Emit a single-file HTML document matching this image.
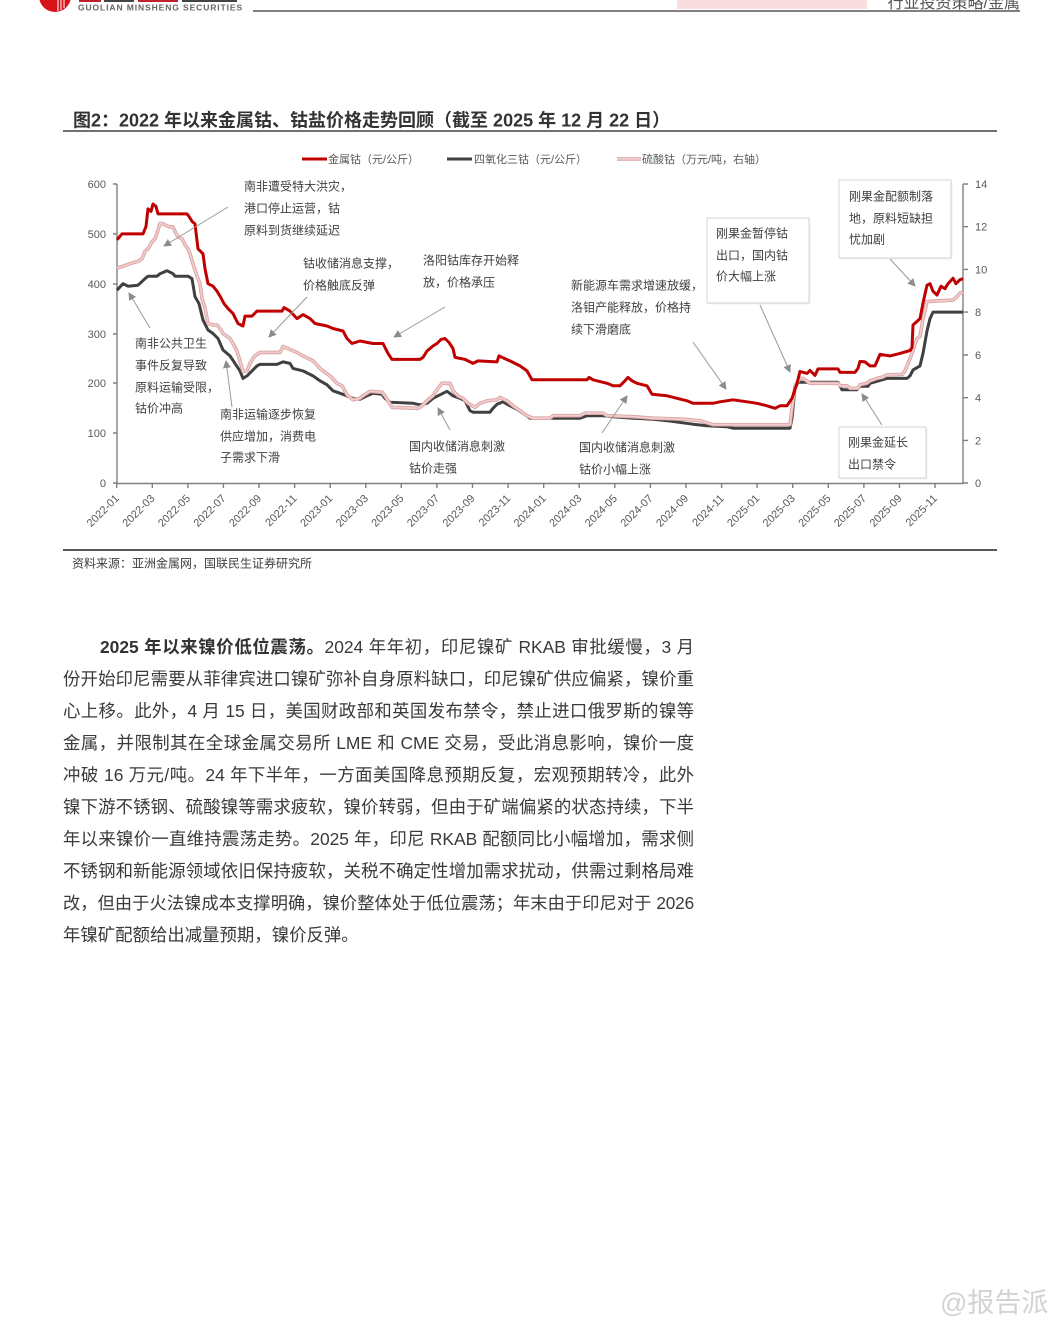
<!DOCTYPE html>
<html>
<head>
<meta charset="utf-8">
<style>
  html,body{margin:0;padding:0;background:#fff;}
  body{width:1061px;height:1320px;position:relative;overflow:hidden;font-family:"Liberation Sans","Noto Sans CJK SC",sans-serif;}
  .ln{position:absolute;left:63px;width:631px;height:32px;line-height:32px;font-size:17.4px;color:#3a3a3a;white-space:nowrap;text-align:justify;text-align-last:justify;}
  .ln.last{text-align:left;text-align-last:left;}
  .ln b{color:#333;font-weight:bold;}
</style>
</head>
<body>

<!-- header -->
<svg style="position:absolute;left:0;top:0" width="1061" height="20">
  <circle cx="55" cy="-4" r="16" fill="#d7141a"/>
  <line x1="58" y1="0" x2="58" y2="11" stroke="#fff" stroke-width="1"/>
  <line x1="61" y1="0" x2="61" y2="10" stroke="#fff" stroke-width="1"/>
  <line x1="64" y1="0" x2="64" y2="8" stroke="#fff" stroke-width="1"/>
  <rect x="79" y="0" width="22" height="2" fill="#c0202a"/>
  <rect x="104" y="0" width="30" height="2" fill="#444"/>
  <rect x="138" y="0" width="40" height="2" fill="#c0202a"/>
  <rect x="182" y="0" width="55" height="2" fill="#444"/>
  <text x="78" y="10.5" font-family="Liberation Sans, sans-serif" font-size="8.5" font-weight="bold" fill="#666" letter-spacing="0.9">GUOLIAN MINSHENG SECURITIES</text>
  <rect x="677" y="0" width="190" height="9" fill="#f8dede"/>
  <text x="1020" y="8" text-anchor="end" font-size="16" fill="#555" font-family="Liberation Sans, Noto Sans CJK SC, sans-serif">行业投资策略/金属</text>
  <line x1="253" y1="11" x2="1020" y2="11" stroke="#808080" stroke-width="2"/>
</svg>

<!-- chart -->
<svg style="position:absolute;left:0;top:0" width="1061" height="600" font-family="Liberation Sans, Noto Sans CJK SC, sans-serif">
  <defs>
    <marker id="ah" markerWidth="8" markerHeight="8" refX="7" refY="4" orient="auto" markerUnits="userSpaceOnUse">
      <path d="M0,0 L8,4 L0,8 Z" fill="#8c8c8c"/>
    </marker>
  </defs>

  <!-- title -->
  <text x="73" y="126.5" font-size="18" font-weight="bold" fill="#333">图2：2022 年以来金属钴、钴盐价格走势回顾（截至 2025 年 12 月 22 日）</text>
  <line x1="63" y1="131" x2="997" y2="131" stroke="#404040" stroke-width="1.6"/>

  <!-- legend -->
  <g font-size="11" fill="#595959">
    <line x1="302" y1="159" x2="327" y2="159" stroke="#c00000" stroke-width="3"/>
    <text x="328" y="163">金属钴（元/公斤）</text>
    <line x1="447" y1="159" x2="472" y2="159" stroke="#404040" stroke-width="3"/>
    <text x="474" y="163">四氧化三钴（元/公斤）</text>
    <line x1="617" y1="159" x2="641" y2="159" stroke="#d9a3a3" stroke-width="3.5"/>
    <line x1="617" y1="159" x2="641" y2="159" stroke="#f2cccc" stroke-width="1.8"/>
    <text x="642" y="163">硫酸钴（万元/吨，右轴）</text>
  </g>

  <!-- axes -->
  <g stroke="#808080" stroke-width="1.4" fill="none">
    <line x1="117" y1="184" x2="117" y2="484"/>
    <line x1="963" y1="184" x2="963" y2="484"/>
    <line x1="117" y1="483.5" x2="963" y2="483.5"/>
    <path d="M113,184H117M113,234H117M113,284H117M113,334H117M113,383H117M113,433H117M113,483H117"/>
    <path d="M963,184H968M963,226.7H968M963,269.4H968M963,312.1H968M963,355H968M963,397.7H968M963,440.4H968M963,483H968"/>
    <path d="M116.7,483V488M152.3,483V488M187.9,483V488M223.4,483V488M259,483V488M294.6,483V488M330.2,483V488M365.8,483V488M401.3,483V488M436.9,483V488M472.5,483V488M508.1,483V488M543.7,483V488M579.2,483V488M614.8,483V488M650.4,483V488M686,483V488M721.6,483V488M757.1,483V488M792.7,483V488M828.3,483V488M863.9,483V488M899.5,483V488M935,483V488"/>
  </g>
  <g font-size="11" fill="#595959" text-anchor="end">
    <text x="106" y="188">600</text>
    <text x="106" y="238">500</text>
    <text x="106" y="288">400</text>
    <text x="106" y="338">300</text>
    <text x="106" y="387">200</text>
    <text x="106" y="437">100</text>
    <text x="106" y="487">0</text>
  </g>
  <g font-size="11" fill="#595959">
    <text x="975" y="188">14</text>
    <text x="975" y="230.7">12</text>
    <text x="975" y="273.4">10</text>
    <text x="975" y="316.1">8</text>
    <text x="975" y="359">6</text>
    <text x="975" y="401.7">4</text>
    <text x="975" y="444.4">2</text>
    <text x="975" y="487">0</text>
  </g>
  <g font-size="11" fill="#595959" text-anchor="end">
    <text transform="translate(119.7,499) rotate(-45)">2022-01</text>
    <text transform="translate(155.3,499) rotate(-45)">2022-03</text>
    <text transform="translate(190.9,499) rotate(-45)">2022-05</text>
    <text transform="translate(226.4,499) rotate(-45)">2022-07</text>
    <text transform="translate(262,499) rotate(-45)">2022-09</text>
    <text transform="translate(297.6,499) rotate(-45)">2022-11</text>
    <text transform="translate(333.2,499) rotate(-45)">2023-01</text>
    <text transform="translate(368.8,499) rotate(-45)">2023-03</text>
    <text transform="translate(404.3,499) rotate(-45)">2023-05</text>
    <text transform="translate(439.9,499) rotate(-45)">2023-07</text>
    <text transform="translate(475.5,499) rotate(-45)">2023-09</text>
    <text transform="translate(511.1,499) rotate(-45)">2023-11</text>
    <text transform="translate(546.7,499) rotate(-45)">2024-01</text>
    <text transform="translate(582.2,499) rotate(-45)">2024-03</text>
    <text transform="translate(617.8,499) rotate(-45)">2024-05</text>
    <text transform="translate(653.4,499) rotate(-45)">2024-07</text>
    <text transform="translate(689,499) rotate(-45)">2024-09</text>
    <text transform="translate(724.6,499) rotate(-45)">2024-11</text>
    <text transform="translate(760.1,499) rotate(-45)">2025-01</text>
    <text transform="translate(795.7,499) rotate(-45)">2025-03</text>
    <text transform="translate(831.3,499) rotate(-45)">2025-05</text>
    <text transform="translate(866.9,499) rotate(-45)">2025-07</text>
    <text transform="translate(902.5,499) rotate(-45)">2025-09</text>
    <text transform="translate(938,499) rotate(-45)">2025-11</text>
  </g>

  <!-- series: black -->
  <polyline fill="none" stroke="#404040" stroke-width="3" stroke-linejoin="round" points="117,290.2 123,283.7 128,286.2 138,285.2 145,278.7 148,276.2 157,276.2 160,273.7 167,270.7 173,273.7 175,276.2 188,276.2 192,278.7 195,296.6 199,303.6 203,320.1 208,330 213,333.5 218,338.5 223,350 230,355.9 235,363.4 240,370.9 243,378.4 247,375.9 252,370.9 257,365.9 260,364.4 277,364.4 283,361.9 290,363.4 293,368.4 303,370.9 313,375.9 320,380.8 327,384.8 333,390.8 343,394.3 353,398.3 360,399.3 367,395.8 373,393.3 382,394.3 385,398.3 390,402.3 413,403.3 420,404.8 427,403.3 430,400.8 433,398.3 440,394.8 447,391.3 453,395.8 460,398.3 465,400.8 470,410.7 473,412.2 490,412.2 493,408.3 497,404.3 503,401.8 510,405.8 517,409.3 523,413.2 530,418.2 580,418.2 587,415.7 603,415.7 613,416.7 633,418.2 653,419.2 667,420.7 693,424.2 707,425.7 727,426.7 733,428.2 790,428.2 792,418.2 795,388.3 798,382.3 838,382.3 842,389.8 857,389.8 860,386.3 868,386.3 870,383.3 880,380.4 887,378.4 907,378.4 910,375.9 913,369.9 920,365.9 923,353.4 927,331 930,318.6 933,312.1 963,312.1"/>

  <!-- series: pink -->
  <g fill="none" stroke-linejoin="round">
  <polyline stroke="#d9a3a3" stroke-width="3.6" points="117,268.2 123,266.2 130,263.7 138,261.3 142,258.8 145,251.3 148,248.8 152,241.8 155,238.8 157,233.4 160,223.4 163,223.9 168,226.4 173,226.9 175,231.4 178,236.8 182,238.8 185,244.8 188,248.8 190,253.8 193,263.7 197,276.2 200,283.7 202,298.6 205,308.1 207,318.6 208,323.5 213,325 217,325 220,328.5 223,333.5 230,338.5 233,343.5 237,351 240,361.4 243,371.4 247,370.9 250,363.4 253,358.4 255,355.9 260,352.4 280,352.4 283,346.5 290,349.5 297,352.4 303,355.9 313,360.9 320,368.4 323,370.9 330,375.9 337,383.3 342,385.8 347,394.8 350,397.3 353,399.8 360,398.3 363,395.8 370,391.3 382,392.3 385,395.8 388,400.8 392,407.3 418,408.3 422,405.8 427,400.8 433,395.8 438,388.3 442,383.3 450,383.3 453,390.8 458,395.8 463,398.3 468,403.3 475,407.3 480,403.3 487,400.8 497,399.8 500,397.3 507,400.8 513,405.8 520,410.7 527,415.7 533,418.2 550,418.2 553,415.7 580,415.7 585,413.2 603,413.2 607,415.7 633,416.7 653,418.2 683,419.2 700,420.7 713,424.7 790,424.7 792,408.3 795,385.8 800,378.4 803,378.4 810,383.3 838,383.3 840,385.8 847,385.8 850,388.3 858,388.3 860,384.8 867,383.3 870,380.8 877,378.4 882,377.4 887,374.9 902,374.4 905,370.9 908,363.4 912,353.4 917,338.5 920,336.5 923,318.6 927,301.6 953,300.1 956,297.6 960,293.1 963,292.2"/>
  <polyline stroke="#f2cccc" stroke-width="1.8" points="117,268.2 123,266.2 130,263.7 138,261.3 142,258.8 145,251.3 148,248.8 152,241.8 155,238.8 157,233.4 160,223.4 163,223.9 168,226.4 173,226.9 175,231.4 178,236.8 182,238.8 185,244.8 188,248.8 190,253.8 193,263.7 197,276.2 200,283.7 202,298.6 205,308.1 207,318.6 208,323.5 213,325 217,325 220,328.5 223,333.5 230,338.5 233,343.5 237,351 240,361.4 243,371.4 247,370.9 250,363.4 253,358.4 255,355.9 260,352.4 280,352.4 283,346.5 290,349.5 297,352.4 303,355.9 313,360.9 320,368.4 323,370.9 330,375.9 337,383.3 342,385.8 347,394.8 350,397.3 353,399.8 360,398.3 363,395.8 370,391.3 382,392.3 385,395.8 388,400.8 392,407.3 418,408.3 422,405.8 427,400.8 433,395.8 438,388.3 442,383.3 450,383.3 453,390.8 458,395.8 463,398.3 468,403.3 475,407.3 480,403.3 487,400.8 497,399.8 500,397.3 507,400.8 513,405.8 520,410.7 527,415.7 533,418.2 550,418.2 553,415.7 580,415.7 585,413.2 603,413.2 607,415.7 633,416.7 653,418.2 683,419.2 700,420.7 713,424.7 790,424.7 792,408.3 795,385.8 800,378.4 803,378.4 810,383.3 838,383.3 840,385.8 847,385.8 850,388.3 858,388.3 860,384.8 867,383.3 870,380.8 877,378.4 882,377.4 887,374.9 902,374.4 905,370.9 908,363.4 912,353.4 917,338.5 920,336.5 923,318.6 927,301.6 953,300.1 956,297.6 960,293.1 963,292.2"/>
  </g>

  <!-- series: red -->
  <polyline fill="none" stroke="#c00000" stroke-width="3" stroke-linejoin="round" points="117,239.8 122,233.9 143,233.9 146,226.4 148,208.9 151,211.4 153,204 156,206.4 158,213.9 187,213.9 189,216.4 192,221.4 195,223.9 198,248.8 203,253.8 205,268.7 208,283.7 213,286.2 217,291.2 220,296.1 224,303.6 228,308.6 233,313.6 238,323.5 243,326 245,316.1 252,316.1 257,311.1 282,311.1 284,307.6 290,311.1 297,318.6 303,314.6 310,318.6 315,323.5 327,326 333,328.5 343,331 347,338.5 352,343.5 360,341 373,343.5 383,343.5 388,353.4 392,359.4 420,359.4 423,357.4 427,351 433,346 437,343.5 441,339.5 445,338.5 449,342.5 453,348.5 455,357.4 465,359.4 470,361.9 473,363.4 478,360.9 497,361.9 499,355.9 502,357.4 510,360.9 520,365.9 527,370.9 532,379.8 587,379.8 589,377.4 593,379.8 607,383.3 613,385.8 620,385.8 625,380.8 628,377.4 632,380.8 637,383.3 647,385.8 652,394.3 667,395.8 677,398.3 687,400.8 693,403.3 713,403.3 720,401.8 733,399.8 747,401.8 757,403.3 767,405.8 775,408.3 780,405.8 787,405.8 792,398.3 797,383.3 800,371.4 807,373.4 810,370.4 815,375.4 818,368.9 838,368.9 840,372.4 855,372.4 858,368.4 860,361.4 865,361.9 870,365.9 875,365.9 880,354.4 890,355.9 900,353.4 910,350.5 912,347.5 913,325 920,318.6 923,303.1 927,285.2 930,283.7 933,291.2 937,295.1 941,286.2 945,288.7 948,283.7 953,278.2 956,283.7 960,279.7 963,278.7"/>

  <!-- annotation boxes -->
  <g fill="#fff" stroke="#d4d4d4" stroke-width="1">
    <rect x="708.5" y="219.5" width="102" height="85" fill="#f0f0f0" stroke="none"/>
    <rect x="707" y="218" width="102" height="85"/>
    <rect x="840.5" y="181.5" width="112" height="78" fill="#f0f0f0" stroke="none"/>
    <rect x="839" y="180" width="112" height="78"/>
    <rect x="840.5" y="428.5" width="87" height="51" fill="#f0f0f0" stroke="none"/>
    <rect x="839" y="427" width="87" height="51"/>
  </g>

  <!-- arrows -->
  <g stroke="#999" stroke-width="1" fill="none" marker-end="url(#ah)">
    <line x1="228" y1="207" x2="164" y2="246"/>
    <line x1="307" y1="297" x2="269" y2="337"/>
    <line x1="150" y1="328" x2="129" y2="293"/>
    <line x1="232" y1="407" x2="226" y2="361"/>
    <line x1="445" y1="307" x2="394" y2="337"/>
    <line x1="450" y1="430" x2="438" y2="408"/>
    <line x1="693" y1="342" x2="726" y2="389"/>
    <line x1="602" y1="433" x2="627" y2="396"/>
    <line x1="760" y1="305" x2="790" y2="372"/>
    <line x1="890" y1="259" x2="915" y2="286"/>
    <line x1="882" y1="425" x2="862" y2="394"/>
  </g>

  <!-- annotation text -->
  <g font-size="12" fill="#404040">
    <text x="244" y="190.5">南非遭受特大洪灾，</text>
    <text x="244" y="212.5">港口停止运营，钴</text>
    <text x="244" y="234.5">原料到货继续延迟</text>

    <text x="303" y="267.5">钴收储消息支撑，</text>
    <text x="303" y="289.5">价格触底反弹</text>

    <text x="135" y="347.5">南非公共卫生</text>
    <text x="135" y="369.5">事件反复导致</text>
    <text x="135" y="391.5">原料运输受限，</text>
    <text x="135" y="412.5">钴价冲高</text>

    <text x="220" y="418.5">南非运输逐步恢复</text>
    <text x="220" y="440.5">供应增加，消费电</text>
    <text x="220" y="461.5">子需求下滑</text>

    <text x="423" y="264.5">洛阳钴库存开始释</text>
    <text x="423" y="286.5">放，价格承压</text>

    <text x="409" y="450.5">国内收储消息刺激</text>
    <text x="409" y="472.5">钴价走强</text>

    <text x="571" y="289.5">新能源车需求增速放缓，</text>
    <text x="571" y="311.5">洛钼产能释放，价格持</text>
    <text x="571" y="333.5">续下滑磨底</text>

    <text x="579" y="451.5">国内收储消息刺激</text>
    <text x="579" y="473.5">钴价小幅上涨</text>

    <text x="716" y="237.5">刚果金暂停钴</text>
    <text x="716" y="259.5">出口，国内钴</text>
    <text x="716" y="280.5">价大幅上涨</text>

    <text x="849" y="200.5">刚果金配额制落</text>
    <text x="849" y="222.5">地，原料短缺担</text>
    <text x="849" y="243.5">忧加剧</text>

    <text x="848" y="446.5">刚果金延长</text>
    <text x="848" y="468.5">出口禁令</text>
  </g>

  <!-- source -->
  <line x1="63" y1="550" x2="997" y2="550" stroke="#404040" stroke-width="1.8"/>
  <text x="72" y="567.5" font-size="12" fill="#404040">资料来源：亚洲金属网，国联民生证券研究所</text>
</svg>

<!-- paragraph -->
<div class="ln" style="top:631px;left:100px;width:594px;"><b>2025 年以来镍价低位震荡。</b>2024 年年初，印尼镍矿 RKAB 审批缓慢，3 月</div>
<div class="ln" style="top:663px;">份开始印尼需要从菲律宾进口镍矿弥补自身原料缺口，印尼镍矿供应偏紧，镍价重</div>
<div class="ln" style="top:695px;">心上移。此外，4 月 15 日，美国财政部和英国发布禁令，禁止进口俄罗斯的镍等</div>
<div class="ln" style="top:727px;">金属，并限制其在全球金属交易所 LME 和 CME 交易，受此消息影响，镍价一度</div>
<div class="ln" style="top:759px;">冲破 16 万元/吨。24 年下半年，一方面美国降息预期反复，宏观预期转冷，此外</div>
<div class="ln" style="top:791px;">镍下游不锈钢、硫酸镍等需求疲软，镍价转弱，但由于矿端偏紧的状态持续，下半</div>
<div class="ln" style="top:823px;">年以来镍价一直维持震荡走势。2025 年，印尼 RKAB 配额同比小幅增加，需求侧</div>
<div class="ln" style="top:855px;">不锈钢和新能源领域依旧保持疲软，关税不确定性增加需求扰动，供需过剩格局难</div>
<div class="ln" style="top:887px;font-size:17.2px;letter-spacing:-0.15px;">改，但由于火法镍成本支撑明确，镍价整体处于低位震荡；年末由于印尼对于 2026</div>
<div class="ln last" style="top:919px;">年镍矿配额给出减量预期，镍价反弹。</div>

<!-- watermark -->
<div style="position:absolute;left:940px;top:1286px;font-size:27px;line-height:34px;color:#d2d2d2;font-family:'Liberation Sans','Noto Sans CJK SC',sans-serif;">@报告派</div>

</body>
</html>
